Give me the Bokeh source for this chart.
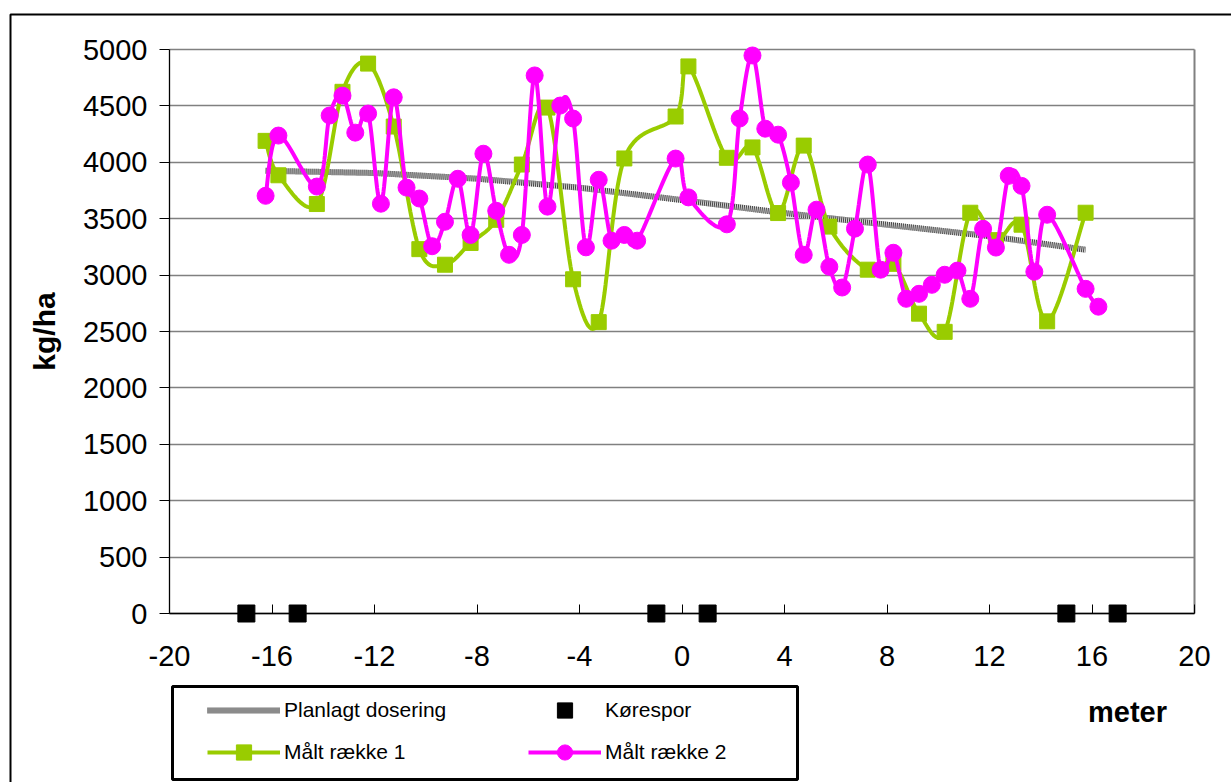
import numpy as np
from bokeh.plotting import figure
from bokeh.models import (Range1d, FixedTicker, Legend, LegendItem,
                          Label, BoxAnnotation)
from bokeh.embed import file_html
from bokeh.resources import INLINE

FONT = "Liberation Sans"
GREEN = "#99CC00"
PINK = "#FF00FF"
GRID = "#808080"

W, H = 1231, 782
X_MIN, X_MAX = -20, 20
Y_MIN, Y_MAX = 0, 5000
# where the axes' ends fall on the canvas (px)
AX_LEFT, AX_RIGHT = 169, 1194
AX_TOP, AX_BOTTOM = 49, 613

# Axis ticks and their labels
x_ticks = [-20, -16, -12, -8, -4, 0, 4, 8, 12, 16, 20]
x_tick_labels = ["-20", "-16", "-12", "-8", "-4", "0", "4", "8", "12", "16", "20"]
y_ticks = [0, 500, 1000, 1500, 2000, 2500, 3000, 3500, 4000, 4500, 5000]
y_tick_labels = ["0", "500", "1000", "1500", "2000", "2500", "3000", "3500",
                 "4000", "4500", "5000"]

# Planned application rate across the spread width (m, kg/ha)
planned_x = [-16.25, -12, -8, -4, 0, 4, 8, 12, 15.75]
planned_kg = [3925, 3905, 3855, 3775, 3665, 3550, 3447, 3345, 3225]

# Tramlines (wheel tracks)
track_x = [-17, -15, -1, 1, 15, 17]
track_kg = [0, 0, 0, 0, 0, 0]

# Measured, row 1
row1_x = [-16.25, -15.75, -14.25, -13.25, -12.25, -11.25, -10.25, -9.25,
          -8.25, -7.25, -6.25, -5.25, -4.25, -3.25, -2.25, -0.25, 0.25,
          1.75, 2.75, 3.75, 4.75, 5.75, 7.25, 8.25, 9.25, 10.25, 11.25,
          12.25, 13.25, 14.25, 15.75]
row1_kg = [4190, 3885, 3630, 4625, 4875, 4317, 3230, 3092, 3285, 3490,
           3980, 4485, 2963, 2583, 4034, 4406, 4850, 4040, 4132, 3550,
           4148, 3430, 3048, 3100, 2658, 2497, 3553, 3310, 3447, 2590, 3553]

# Measured, row 2
row2_x = [-16.25, -15.75, -14.25, -13.75, -13.25, -12.75, -12.25, -11.75,
          -11.25, -10.75, -10.25, -9.75, -9.25, -8.75, -8.25, -7.75, -7.25,
          -6.75, -6.25, -5.75, -5.25, -4.75, -4.25, -3.75, -3.25, -2.75,
          -2.25, -1.75, -0.25, 0.25, 1.75, 2.25, 2.75, 3.25, 3.75, 4.25,
          4.75, 5.25, 5.75, 6.25, 6.75, 7.25, 7.75, 8.25, 8.75, 9.25, 9.75,
          10.25, 10.75, 11.25, 11.75, 12.25, 12.75, 13.25, 13.75, 14.25,
          15.75, 16.25]
row2_kg = [3703, 4237, 3785, 4415, 4591, 4263, 4432, 3633, 4576, 3776,
           3679, 3256, 3473, 3854, 3356, 4076, 3570, 3180, 3356, 4770,
           3607, 4503, 4388, 3246, 3845, 3305, 3356, 3305, 4033, 3689,
           3450, 4388, 4947, 4298, 4245, 3820, 3180, 3580, 3074, 2890,
           3412, 3980, 3048, 3198, 2790, 2834, 2914, 3003, 3040, 2790,
           3410, 3244, 3880, 3791, 3030, 3535, 2878, 2720]


def smooth(xs, ys, steps=20):
    """Catmull-Rom curve through every point (a 'smoothed line')."""
    x = np.asarray(xs, float)
    y = np.asarray(ys, float)
    px = np.concatenate([[x[0]], x, [x[-1]]])
    py = np.concatenate([[y[0]], y, [y[-1]]])
    t = np.linspace(0, 1, steps, endpoint=False)
    t2, t3 = t * t, t * t * t
    out_x, out_y = [], []
    for i in range(1, len(px) - 2):
        for p, out in ((px, out_x), (py, out_y)):
            p0, p1, p2, p3 = p[i - 1], p[i], p[i + 1], p[i + 2]
            out.extend(0.5 * (2 * p1 + (p2 - p0) * t
                              + (2 * p0 - 5 * p1 + 4 * p2 - p3) * t2
                              + (3 * p1 - p0 - 3 * p2 + p3) * t3))
    out_x.append(x[-1])
    out_y.append(y[-1])
    return out_x, out_y


# The plot frame covers the whole canvas; the axes are pinned at x=-20 / y=0
# so that the legend and labels below the axis are drawn inside the frame.
kx = (X_MAX - X_MIN) / (AX_RIGHT - AX_LEFT)
ky = (Y_MAX - Y_MIN) / (AX_BOTTOM - AX_TOP)
x_range = Range1d(X_MIN - AX_LEFT * kx, X_MAX + (W - AX_RIGHT) * kx)
y_range = Range1d(Y_MIN - (H - AX_BOTTOM) * ky, Y_MAX + AX_TOP * ky)

p = figure(width=W, height=H, x_range=x_range, y_range=y_range,
           output_backend="svg", toolbar_location=None,
           min_border=0, min_border_left=0, min_border_right=0,
           min_border_top=0, min_border_bottom=0)
p.outline_line_color = None
p.background_fill_color = "white"
p.border_fill_color = "white"

# grid: horizontal lines only, inside the axes box
p.xgrid.grid_line_color = None
p.ygrid.ticker = FixedTicker(ticks=y_ticks)
p.ygrid.bounds = (Y_MIN, Y_MAX)
p.ygrid.cross_bounds = (X_MIN, X_MAX)
p.ygrid.grid_line_color = GRID
p.ygrid.grid_line_width = 1.3

# x axis on y = 0, ticks pointing into the plot
p.xaxis.ticker = FixedTicker(ticks=x_ticks)
p.xaxis.major_label_overrides = dict(zip(x_ticks, x_tick_labels))
p.xaxis.fixed_location = Y_MIN
p.xaxis.bounds = (X_MIN, X_MAX)
p.xaxis.major_tick_in = 9
p.xaxis.major_tick_out = 0
p.xaxis.minor_tick_line_color = None
p.xaxis.axis_line_color = "black"
p.xaxis.axis_line_width = 1.3
p.xaxis.major_tick_line_color = "black"
p.xaxis.major_label_text_font = FONT
p.xaxis.major_label_text_font_size = "29px"
p.xaxis.major_label_text_color = "black"
p.xaxis.major_label_standoff = 32

# y axis on x = -20
p.yaxis.ticker = FixedTicker(ticks=y_ticks)
p.yaxis.major_label_overrides = dict(zip(y_ticks, y_tick_labels))
p.yaxis.fixed_location = X_MIN
p.yaxis.bounds = (Y_MIN, Y_MAX)
p.yaxis.major_tick_in = 0
p.yaxis.major_tick_out = 10
p.yaxis.minor_tick_line_color = None
p.yaxis.axis_line_color = "black"
p.yaxis.axis_line_width = 1.3
p.yaxis.major_label_text_font = FONT
p.yaxis.major_label_text_font_size = "29px"
p.yaxis.major_label_text_color = "black"
p.yaxis.major_label_standoff = 12
p.yaxis.axis_label = "kg/ha"
p.yaxis.axis_label_text_font = FONT
p.yaxis.axis_label_text_font_size = "30px"
p.yaxis.axis_label_text_font_style = "bold"
p.yaxis.axis_label_text_color = "black"
p.yaxis.axis_label_standoff = 19

# right edge of the axes box
p.segment(x0=[X_MAX], y0=[Y_MIN], x1=[X_MAX], y1=[Y_MAX],
          line_color=GRID, line_width=2)

# planned rate: a textured grey band
plan_base = p.line(planned_x, planned_kg, line_color="#d2d2d2", line_width=6)
plan_tex = p.line(planned_x, planned_kg, line_color="#444444", line_width=6,
                  line_dash="1 1")

# measured rows as smoothed lines with markers
s1x, s1y = smooth(row1_x, row1_kg)
r1_line = p.line(s1x, s1y, line_color=GREEN, line_width=4)
r1_pts = p.scatter(row1_x, row1_kg, marker="square", size=15,
                   fill_color=GREEN, line_color=GREEN)

s2x, s2y = smooth(row2_x, row2_kg)
r2_line = p.line(s2x, s2y, line_color=PINK, line_width=4)
r2_pts = p.scatter(row2_x, row2_kg, marker="circle", size=17,
                   fill_color=PINK, line_color=PINK)

tracks = p.scatter(track_x, track_kg, marker="square", size=17,
                   fill_color="black", line_color="black")


def make_legend(items, x, y):
    leg = Legend(items=items, location=(x, y), orientation="vertical",
                 glyph_width=73, glyph_height=38, label_height=38,
                 label_standoff=4, spacing=4, padding=0, margin=0,
                 label_text_font=FONT, label_text_font_size="21px",
                 label_text_color="black",
                 border_line_color=None, background_fill_alpha=0)
    p.add_layout(leg)
    return leg


# legend: two columns, bottom edge 11 px above the canvas bottom
make_legend([LegendItem(label="Planlagt dosering", renderers=[plan_base, plan_tex]),
             LegendItem(label="Målt række 1", renderers=[r1_line, r1_pts])],
            207, 11)
make_legend([LegendItem(label="Kørespor", renderers=[tracks]),
             LegendItem(label="Målt række 2", renderers=[r2_line, r2_pts])],
            528, 11)

# legend frame and chart frame
p.add_layout(BoxAnnotation(left=172, right=797, top=686, bottom=779,
                           left_units="canvas", right_units="canvas",
                           top_units="canvas", bottom_units="canvas",
                           fill_color=None, fill_alpha=0,
                           line_color="black", line_alpha=1, line_width=3))
p.add_layout(BoxAnnotation(left=10, right=W + 20, top=14, bottom=H + 20,
                           left_units="canvas", right_units="canvas",
                           top_units="canvas", bottom_units="canvas",
                           fill_color=None, fill_alpha=0,
                           line_color="black", line_alpha=1, line_width=2))

p.add_layout(Label(x=1127, y=H - 711, x_units="screen", y_units="screen",
                   text="meter", text_font=FONT, text_font_size="29px",
                   text_font_style="bold", text_color="black",
                   text_align="center", text_baseline="middle"))

open("out.html", "w").write(file_html(p, INLINE))
